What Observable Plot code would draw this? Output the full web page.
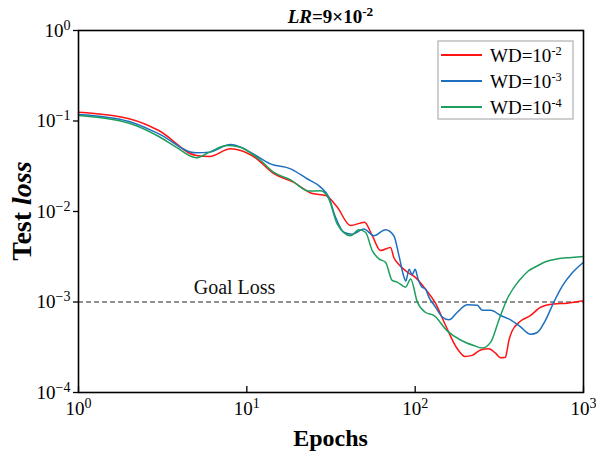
<!DOCTYPE html>
<html><head><meta charset="utf-8">
<script src="https://cdn.jsdelivr.net/npm/d3@7"></script>
<script src="https://cdn.jsdelivr.net/npm/@observablehq/plot@0.6"></script>
<style>body{margin:0;background:#fff} svg{display:block}</style>
</head><body><div id="chart"></div>
<script>
const seriesNames = ["WD=10^-2", "WD=10^-3", "WD=10^-4"];
const seriesColors = ["#ff1414", "#1f6fc0", "#1c9e5c"];

const redEpochs = [1, 2, 3, 5, 6, 8, 9.2, 11.3, 14.4, 18.9, 24.5, 29.4, 34.4, 41.3, 50, 55.6, 62.3, 71.4, 74.7, 80, 89.7, 100, 115, 132, 151, 178, 198, 218, 245, 274, 300, 322, 344, 350, 360, 378, 413, 485, 556, 667, 800, 1000];
const redLoss = [0.125, 0.106, 0.0785, 0.0416, 0.0405, 0.0493, 0.0472, 0.039, 0.0263, 0.0211, 0.0158, 0.015, 0.0112, 0.0070, 0.0076, 0.0054, 0.0037, 0.0040, 0.0031, 0.0026, 0.00214, 0.00188, 0.00139, 0.00097, 0.00056, 0.000304, 0.00025, 0.000257, 0.000295, 0.000304, 0.000272, 0.000242, 0.000245, 0.000279, 0.000373, 0.000484, 0.000595, 0.00071, 0.000876, 0.00095, 0.00097, 0.00103];

const blueEpochs = [1, 2, 3, 5, 6, 8, 9.2, 11.3, 13.8, 18.2, 22.8, 27.4, 30.7, 33.6, 37.7, 42.3, 49.6, 56.9, 66.7, 74.7, 80, 85.7, 88, 92, 96, 100, 104, 110, 115, 120.6, 132, 145, 159, 178, 204, 234, 250, 281, 322, 369, 423, 485, 531, 595, 667, 748, 858, 1000];
const blueLoss = [0.118, 0.0987, 0.0721, 0.0445, 0.0453, 0.055, 0.0514, 0.0416, 0.0336, 0.0296, 0.023, 0.0186, 0.0144, 0.0087, 0.0059, 0.0056, 0.0064, 0.0054, 0.0063, 0.0054, 0.0033, 0.0019, 0.0017, 0.0023, 0.0020, 0.0023, 0.0018, 0.00146, 0.0014, 0.00113, 0.00088, 0.00068, 0.000635, 0.00077, 0.00093, 0.00092, 0.00081, 0.00081, 0.00071, 0.000635, 0.00053, 0.00044, 0.00046, 0.00063, 0.001, 0.0015, 0.0021, 0.00275];

const greenEpochs = [1, 2, 3, 3.8, 5, 6, 7.6, 8.9, 11.3, 12.1, 14.4, 18.2, 23.4, 27.4, 30.7, 34.4, 41.3, 46.3, 50.7, 55.6, 60.9, 66.7, 73, 78.2, 87.7, 94, 103, 115, 129, 155, 186, 223, 250, 281, 314, 352, 423, 470, 531, 600, 700, 850, 1000];
const greenLoss = [0.115, 0.0946, 0.0674, 0.0514, 0.0392, 0.0453, 0.0536, 0.052, 0.0405, 0.0366, 0.0272, 0.0224, 0.0168, 0.017, 0.0138, 0.0073, 0.0054, 0.0063, 0.0059, 0.0037, 0.0030, 0.00275, 0.00173, 0.00166, 0.00146, 0.0018, 0.0010, 0.00077, 0.00071, 0.00048, 0.00038, 0.00033, 0.00031, 0.00036, 0.00063, 0.00108, 0.0018, 0.0022, 0.0025, 0.0028, 0.0030, 0.0031, 0.00318];

const xTicks = [1, 10, 100, 1000];
const yTicks = [1e-4, 1e-3, 1e-2, 1e-1, 1];
const goalLoss = 1e-3;
const goalLabel = "Goal Loss";
const titleParts = ["LR", "=9×10", "-2"];
const xLabel = "Epochs";
const yLabelParts = ["Test ", "loss"];

const allEpochs = [redEpochs, blueEpochs, greenEpochs];
const allLoss = [redLoss, blueLoss, greenLoss];
const rows = [];
seriesNames.forEach((s, i) => allEpochs[i].forEach((e, j) => rows.push({series: s, epoch: e, loss: allLoss[i][j]})));

const W = 596, H = 454, mL = 78, mR = 13, mT = 30, mB = 62;
const fmt = d => "10^" + String(Math.round(Math.log10(d))).replace("-", "\u2212");
const serif = "'Liberation Serif', 'Times New Roman', serif";

const chart = Plot.plot({
  width: W, height: H,
  marginLeft: mL, marginRight: mR, marginTop: mT, marginBottom: mB,
  style: {fontFamily: serif, fontSize: "19px", color: "black", background: "white"},
  x: {type: "log", domain: [1, 1000]},
  y: {type: "log", domain: [1e-4, 1]},
  color: {domain: seriesNames, range: seriesColors},
  marks: [
    Plot.ruleY([goalLoss], {stroke: "#222", strokeWidth: 1, strokeDasharray: "5,3"}),
    Plot.text([goalLabel], {x: 8.45, y: goalLoss, text: d => d, dy: -14, fontSize: 20, fill: "#111"}),
    Plot.line(rows, {x: "epoch", y: "loss", stroke: "series", curve: "monotone-x", strokeWidth: 1.5}),
    Plot.axisY({ticks: yTicks, tickFormat: fmt, tickSize: 5, tickPadding: 3, label: null, fontSize: 19, stroke: "black", strokeWidth: 1.3}),
    Plot.axisX({ticks: xTicks, tickFormat: fmt, tickSize: 0, tickPadding: 9, label: null, fontSize: 19}),
    Plot.ruleX(xTicks, {insetTop: H - mT - mB - 6, stroke: "black", strokeWidth: 1.3}),
    Plot.frame({stroke: "black", strokeWidth: 1.6})
  ]
});
document.getElementById("chart").appendChild(chart);

// superscripts in tick labels
chart.querySelectorAll("text").forEach(t => {
  const m = t.textContent.match(/^(.*?)\^(.+)$/);
  if (m) {
    t.textContent = "";
    const a = document.createElementNS("http://www.w3.org/2000/svg", "tspan");
    a.textContent = m[1];
    const b = document.createElementNS("http://www.w3.org/2000/svg", "tspan");
    b.textContent = m[2];
    b.setAttribute("dy", "-0.5em");
    b.setAttribute("font-size", "74%");
    t.appendChild(a); t.appendChild(b);
  }
});

const svg = d3.select(chart);
// title
const title = svg.append("text").attr("x", (mL + W - mR) / 2).attr("y", 23)
  .attr("text-anchor", "middle").attr("font-family", serif).attr("font-size", 19).attr("font-weight", "bold").attr("fill", "black");
title.append("tspan").attr("font-style", "italic").text(titleParts[0]);
title.append("tspan").text(titleParts[1]);
title.append("tspan").attr("dy", "-0.5em").attr("font-size", "70%").text(titleParts[2]);

// axis labels
svg.append("text").attr("x", (mL + W - mR) / 2).attr("y", 446).attr("text-anchor", "middle")
  .attr("font-family", serif).attr("font-size", 24).attr("font-weight", "bold").attr("fill", "black").text(xLabel);
const yl = svg.append("text").attr("transform", `translate(31,${(mT + H - mB) / 2}) rotate(-90)`).attr("text-anchor", "middle")
  .attr("font-family", serif).attr("font-size", 28).attr("font-weight", "bold").attr("fill", "black");
yl.append("tspan").text(yLabelParts[0]);
yl.append("tspan").attr("font-style", "italic").text(yLabelParts[1]);

// legend
const lg = svg.append("g");
lg.append("rect").attr("x", 438).attr("y", 41).attr("width", 135).attr("height", 78)
  .attr("fill", "white").attr("stroke", "#b0b0b0").attr("stroke-width", 1.2);
seriesNames.forEach((s, i) => {
  const yy = 55 + i * 26;
  lg.append("line").attr("x1", 441).attr("x2", 482).attr("y1", yy).attr("y2", yy)
    .attr("stroke", seriesColors[i]).attr("stroke-width", 1.8);
  const m = s.match(/^(.*?)\^(.+)$/);
  const t = lg.append("text").attr("x", 490).attr("y", yy + 6.5).attr("text-anchor", "start")
    .attr("font-family", serif).attr("font-size", 19).attr("fill", "black");
  t.append("tspan").text(m[1]);
  t.append("tspan").attr("dy", "-0.5em").attr("font-size", "65%").text(m[2]);
});
</script></body></html>
